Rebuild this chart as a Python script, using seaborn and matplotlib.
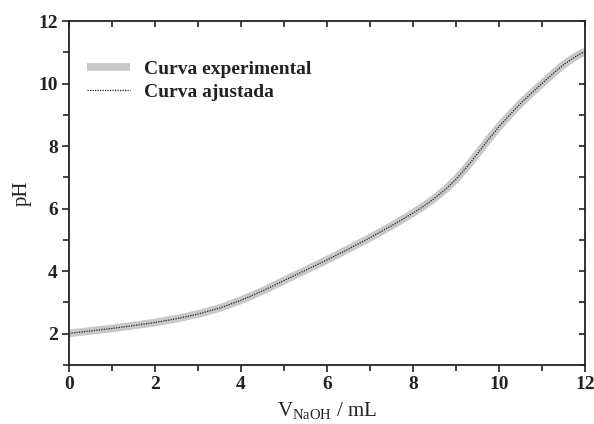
import matplotlib
matplotlib.use("Agg")
import matplotlib.pyplot as plt
import seaborn as sns
import pandas as pd
from matplotlib.ticker import MultipleLocator

v_naoh = [0, 0.5, 1, 1.5, 2, 2.5, 3, 3.5, 4, 4.5, 5, 5.5, 6, 6.5, 7, 7.5, 8,
          8.25, 8.5, 8.75, 9, 9.25, 9.5, 9.75, 10, 10.25, 10.5, 10.75, 11, 11.25,
          11.5, 11.75, 12]
ph_experimental = [2.01, 2.09, 2.17, 2.26, 2.36, 2.48, 2.63, 2.82, 3.07, 3.37, 3.70,
                   4.03, 4.36, 4.71, 5.07, 5.45, 5.86, 6.08, 6.33, 6.61, 6.94, 7.33,
                   7.76, 8.20, 8.62, 9.00, 9.36, 9.69, 10.00, 10.31, 10.60, 10.84, 11.03]
ph_fitted = [2.01, 2.09, 2.17, 2.26, 2.36, 2.48, 2.63, 2.82, 3.07, 3.37, 3.70,
             4.03, 4.36, 4.71, 5.07, 5.45, 5.86, 6.08, 6.33, 6.61, 6.94, 7.33,
             7.76, 8.20, 8.62, 9.00, 9.36, 9.69, 10.00, 10.31, 10.60, 10.84, 11.03]
labels = ["Curva experimental", "Curva ajustada"]

sns.set_style("ticks")
plt.rcParams['font.family'] = ['Liberation Serif', 'DejaVu Serif']
plt.rcParams['mathtext.fontset'] = 'custom'
plt.rcParams['mathtext.rm'] = 'Liberation Serif'

df_exp = pd.DataFrame({"x": v_naoh, "y": ph_experimental})
df_fit = pd.DataFrame({"x": v_naoh, "y": ph_fitted})

fig = plt.figure(figsize=(5.94, 4.24), dpi=100)
ax = fig.add_axes([69/594, 59/424, 516/594, 344/424])

sns.lineplot(data=df_exp, x="x", y="y", ax=ax, color="#c8c8c8", lw=5.5,
             label=labels[0], solid_capstyle="butt", solid_joinstyle="round")
sns.lineplot(data=df_fit, x="x", y="y", ax=ax, color="#222222", lw=0.9,
             ls=(0, (1, 1)), label=labels[1])

ax.set_xlim(0, 12)
ax.set_ylim(1, 12)
ax.xaxis.set_major_locator(MultipleLocator(2))
ax.xaxis.set_minor_locator(MultipleLocator(1))
ax.yaxis.set_major_locator(MultipleLocator(2))
ax.yaxis.set_minor_locator(MultipleLocator(1))

for s in ax.spines.values():
    s.set_linewidth(1.3)
    s.set_color("#222222")

ax.tick_params(which='major', direction='out', length=5, width=1.2, color="#222222",
               labelsize=14, pad=3)
ax.tick_params(which='minor', direction='out', length=4, width=1.2, color="#222222")
for lab in ax.get_xticklabels() + ax.get_yticklabels():
    lab.set_fontweight('bold')
    lab.set_color("#222222")

secx = ax.secondary_xaxis('top')
secx.xaxis.set_major_locator(MultipleLocator(1))
secx.tick_params(direction='in', length=4, width=1.2, labeltop=False, color="#222222")
secx.spines['top'].set_visible(False)
secy = ax.secondary_yaxis('right')
secy.yaxis.set_major_locator(MultipleLocator(1))
secy.tick_params(direction='in', length=4, width=1.2, labelright=False, color="#222222")
secy.spines['right'].set_visible(False)

ax.set_xlabel(r"$\mathrm{V_{NaOH}}$ / mL", fontsize=15, color="#222222", labelpad=5)
ax.set_ylabel("pH", fontsize=15, color="#222222", labelpad=5)

leg = ax.legend(loc='upper left', frameon=False, handlelength=2.2,
                bbox_to_anchor=(0.035, 0.885), borderaxespad=0, borderpad=0,
                prop={'weight': 'bold', 'size': 14}, labelspacing=0.25,
                handletextpad=0.75)
for t in leg.get_texts():
    t.set_color("#222222")

fig.savefig("out.png", dpi=100)
